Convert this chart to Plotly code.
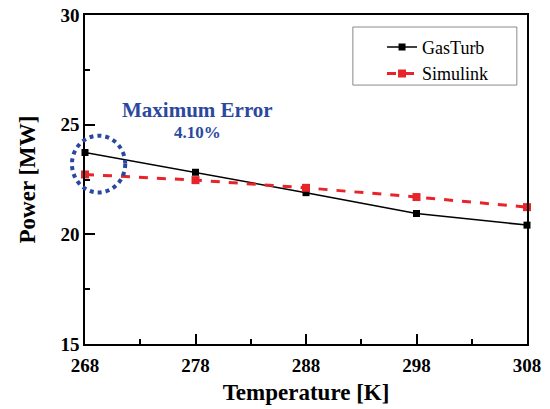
import plotly.graph_objects as go

temperature = [268, 278, 288, 298, 308]
gasturb = [23.73, 22.83, 21.90, 20.95, 20.42]
simulink = [22.73, 22.47, 22.12, 21.70, 21.24]
x_ticks = [268, 278, 288, 298, 308]
y_ticks = [15, 20, 25, 30]

xr = [268, 308]
yr = [15, 30]
serif = "Liberation Serif"
blue = "#2B48A0"

fig = go.Figure()
fig.add_trace(go.Scatter(x=temperature, y=gasturb, name="GasTurb", mode="lines+markers",
                         line=dict(color="black", width=1.5),
                         marker=dict(symbol="square", size=7, color="black"), cliponaxis=False))
fig.add_trace(go.Scatter(x=temperature, y=simulink, name="Simulink", mode="lines+markers",
                         line=dict(color="#E8242B", width=3, dash="dash"),
                         marker=dict(symbol="square", size=8, color="#E8242B"), cliponaxis=False))

def px(v):
    return (v - xr[0]) / (xr[1] - xr[0])
def py(v):
    return (v - yr[0]) / (yr[1] - yr[0])

# dotted ellipse around maximum error
fig.add_shape(type="circle", xref="paper", yref="paper",
              x0=px(266.82), x1=px(271.64), y0=py(21.91), y1=py(24.5),
              line=dict(color=blue, width=4, dash="dot"))

# legend frame
fig.add_shape(type="rect", xref="paper", yref="paper", x0=0.606, x1=0.977, y0=0.787, y1=0.9635,
              line=dict(color="#8a8a8a", width=1), fillcolor="white", layer="below")

fig.add_annotation(x=px(278.2), y=py(25.66), xref="paper", yref="paper", text="<b>Maximum Error</b>",
                   xanchor="center", yanchor="middle",
                   showarrow=False, font=dict(family=serif, size=21, color=blue))
fig.add_annotation(x=px(278.2), y=py(24.64), xref="paper", yref="paper", text="<b>4.10%</b>",
                   xanchor="center", yanchor="middle",
                   showarrow=False, font=dict(family=serif, size=17, color=blue))

axis_common = dict(showgrid=False, zeroline=False, showline=True, linecolor="black", linewidth=1.5,
                   mirror=True, ticks="inside", ticklen=10, tickwidth=1.5, tickcolor="black",
                   automargin=False,
                   tickfont=dict(family=serif, size=19, color="black"))
fig.update_xaxes(range=xr, tickvals=x_ticks, ticktext=[f"<b>{v}</b>" for v in x_ticks],
                 ticklabelstandoff=3,
                 minor=dict(ticks="inside", ticklen=5, tickwidth=1.5, tickcolor="black", dtick=5, tick0=268),
                 title=dict(text="<b>Temperature [K]</b>", font=dict(family=serif, size=23, color="black"), standoff=9),
                 **axis_common)
fig.update_yaxes(range=yr, tickvals=y_ticks, ticktext=[f"<b>{v}</b>" for v in y_ticks],
                 minor=dict(ticks="inside", ticklen=5, tickwidth=1.5, tickcolor="black", dtick=2.5, tick0=15),
                 title=dict(text="<b>Power [MW]</b>", font=dict(family=serif, size=23, color="black"), standoff=18),
                 **axis_common)

fig.update_layout(width=550, height=409, margin=dict(l=85, r=23, t=15, b=65),
                  plot_bgcolor="white", paper_bgcolor="white",
                  legend=dict(x=0.672, y=0.958, xanchor="left", yanchor="top",
                              borderwidth=0, bgcolor="rgba(0,0,0,0)",
                              font=dict(family=serif, size=18, color="black"),
                              tracegroupgap=2),
                  showlegend=True)

fig.write_html("out.html")
